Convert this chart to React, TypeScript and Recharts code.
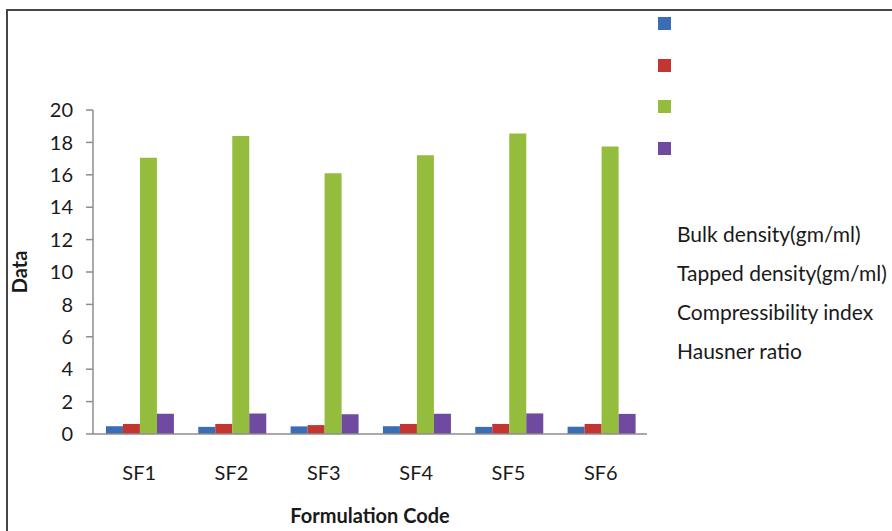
import { BarChart, Bar, XAxis, YAxis, Legend } from 'recharts';

const categories = ['SF1', 'SF2', 'SF3', 'SF4', 'SF5', 'SF6'];
const bulkDensity = [0.48, 0.44, 0.47, 0.48, 0.44, 0.45];
const tappedDensity = [0.62, 0.62, 0.55, 0.62, 0.62, 0.62];
const compressibility = [17.05, 18.4, 16.1, 17.2, 18.55, 17.75];
const hausner = [1.25, 1.27, 1.22, 1.25, 1.27, 1.24];
const yTicks = [0, 2, 4, 6, 8, 10, 12, 14, 16, 18, 20];

const series = [
  { key: 'bulk', name: 'Bulk density(gm/ml)', color: '#3a6db4' },
  { key: 'tapped', name: 'Tapped density(gm/ml)', color: '#c23531' },
  { key: 'ci', name: 'Compressibility index', color: '#94bd3e' },
  { key: 'hr', name: 'Hausner ratio', color: '#7049a0' },
];

const data = categories.map((name, i) => ({
  name,
  bulk: bulkDensity[i],
  tapped: tappedDensity[i],
  ci: compressibility[i],
  hr: hausner[i],
}));

const font = 'Lato, sans-serif';

// Excel-style legend: swatches stacked at top, labels further down (series order kept)
const SplitLegend = () => (
  <div style={{ position: 'relative', width: 892, height: 531, fontFamily: font }}>
    {series.map((s, i) => (
      <div
        key={'sw' + i}
        style={{
          position: 'absolute',
          left: 658,
          top: 17 + i * 41.7,
          width: 13,
          height: 13,
          background: s.color,
        }}
      />
    ))}
    {series.map((s, i) => (
      <div
        key={'tx' + i}
        style={{
          position: 'absolute',
          left: 677,
          top: 221 + i * 39,
          fontSize: 21,
          lineHeight: '26px',
          color: '#1a1a1a',
          whiteSpace: 'nowrap',
        }}
      >
        {s.name}
      </div>
    ))}
  </div>
);

const DataLabel = ({ viewBox }: any) => {
  const cx = 19;
  const cy = viewBox.y + viewBox.height / 2;
  return (
    <text
      x={cx}
      y={cy}
      transform={`rotate(-90 ${cx} ${cy})`}
      textAnchor="middle"
      dominantBaseline="central"
      fontFamily={font}
      fontWeight="bold"
      fontSize={20}
      fill="#1a1a1a"
    >
      Data
    </text>
  );
};

export default function App() {
  return (
    <div style={{ position: 'absolute', left: 0, top: 0, width: 892, height: 531, overflow: 'hidden', background: '#fff' }}>
      <div
        style={{
          position: 'absolute',
          left: 6,
          top: 9,
          width: 920,
          height: 560,
          borderLeft: '2px solid #474747',
          borderTop: '2px solid #474747',
        }}
      />
      <BarChart
        width={892}
        height={531}
        data={data}
        margin={{ top: 110, right: 245, bottom: 0, left: 0 }}
        barCategoryGap="14%"
        barGap={0}
      >
        <XAxis
          dataKey="name"
          height={97}
          tickLine={false}
          tickSize={6}
          tickMargin={26}
          stroke="#8c8c8c"
          strokeWidth={1.5}
          tick={{ fill: '#1a1a1a', fontSize: 20, fontFamily: font }}
          label={{
            value: 'Formulation Code',
            position: 'insideBottom',
            offset: 8,
            fill: '#1a1a1a',
            fontSize: 20,
            fontWeight: 'bold',
            fontFamily: font,
          }}
        />
        <YAxis
          width={93}
          domain={[0, 20]}
          ticks={yTicks}
          interval={0}
          tickSize={7}
          tickMargin={13}
          stroke="#8c8c8c"
          strokeWidth={1.5}
          tick={{ fill: '#1a1a1a', fontSize: 20, fontFamily: font }}
          label={<DataLabel />}
        />
        <Legend
          layout="horizontal"
          verticalAlign="middle"
          align="center"
          wrapperStyle={{ left: 0, top: 0, width: 892, height: 531 }}
          content={<SplitLegend />}
        />
        {series.map((s) => (
          <Bar key={s.key} dataKey={s.key} name={s.name} fill={s.color} isAnimationActive={false} />
        ))}
      </BarChart>
    </div>
  );
}
